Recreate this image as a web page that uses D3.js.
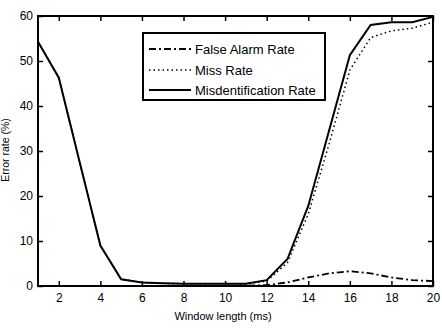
<!DOCTYPE html>
<html><head><meta charset="utf-8">
<script src="https://cdn.jsdelivr.net/npm/d3@7"></script>
<style>body{margin:0;background:#fff}text{font-family:"Liberation Sans",Arial,sans-serif;fill:#000}</style>
</head><body><svg id="c" width="442" height="328"></svg>
<script>
const windowLength = [1,2,3,4,5,6,7,8,9,10,11,12,13,14,15,16,17,18,19,20];
const falseAlarm = [0,0,0,0,0,0,0,0,0,0,0.05,0.2,0.8,1.9,2.8,3.3,2.8,1.9,1.3,1.1];
const missRate = [54.3,46.3,27.6,9,1.5,0.8,0.6,0.5,0.5,0.5,0.45,1.1,5.2,16,31.5,48,55.2,56.7,57.3,58.6];
const misidRate = [54.3,46.3,27.6,9,1.5,0.8,0.6,0.5,0.5,0.5,0.5,1.3,6,17.8,34.5,51.3,58,58.6,58.6,59.8];
const xTicks = [2,4,6,8,10,12,14,16,18,20];
const yTicks = [0,10,20,30,40,50,60];
const legendLabels = ["False Alarm Rate","Miss Rate","Misdentification Rate"];

const svg = d3.select("#c");
const L=38,R=433,T=16,B=286;
const x = d3.scaleLinear().domain([1,20]).range([L,R]);
const y = d3.scaleLinear().domain([0,60]).range([B,T]);

const gx = svg.append("g").attr("transform",`translate(0,${B})`)
  .call(d3.axisBottom(x).tickValues(xTicks).tickSize(-5).tickPadding(7).tickFormat(d3.format("d")));
const gy = svg.append("g").attr("transform",`translate(${L},0)`)
  .call(d3.axisLeft(y).tickValues(yTicks).tickSize(-5).tickPadding(5).tickFormat(d3.format("d")));
const gt = svg.append("g").attr("transform",`translate(0,${T})`)
  .call(d3.axisTop(x).tickValues(xTicks).tickSize(-5).tickFormat(""));
const gr = svg.append("g").attr("transform",`translate(${R},0)`)
  .call(d3.axisRight(y).tickValues(yTicks).tickSize(-5).tickFormat(""));
[gx,gy,gt,gr].forEach(g=>{
  g.select(".domain").remove();
  g.selectAll("line").attr("stroke","#000").attr("stroke-width",1.5);
  g.selectAll("text").style("font-size","12px").style("font-family","Liberation Sans, Arial, sans-serif");
});
svg.append("rect").attr("x",L).attr("y",T).attr("width",R-L).attr("height",B-T)
  .attr("fill","none").attr("stroke","#000").attr("stroke-width",2);

const line = d3.line().x((d,i)=>x(windowLength[i])).y(d=>y(d));
const styles = [
  {data:falseAlarm, dash:"7,3,2,3", w:1.8},
  {data:missRate, dash:"1.5,3", w:1.5},
  {data:misidRate, dash:null, w:2}
];
styles.forEach(s=>{
  svg.append("path").datum(s.data).attr("d",line).attr("fill","none")
    .attr("stroke","#000").attr("stroke-width",s.w).attr("stroke-dasharray",s.dash);
});

const lg = svg.append("g");
lg.append("rect").attr("x",143).attr("y",33).attr("width",182).attr("height",67)
  .attr("fill","#fff").attr("stroke","#000").attr("stroke-width",2);
const rows=[49,70,90];
legendLabels.forEach((t,i)=>{
  lg.append("line").attr("x1",149).attr("x2",191).attr("y1",rows[i]).attr("y2",rows[i])
    .attr("stroke","#000").attr("stroke-width",styles[i].w).attr("stroke-dasharray",styles[i].dash);
  lg.append("text").attr("x",195).attr("y",rows[i]).attr("dy","0.35em")
    .style("font-size","13px").text(t);
});

svg.append("text").attr("x",223).attr("y",320).attr("text-anchor","middle")
  .style("font-size","11px").text("Window length (ms)");
svg.append("text").attr("transform","translate(9,150) rotate(-90)").attr("text-anchor","middle")
  .style("font-size","10.5px").text("Error rate (%)");
</script></body></html>
